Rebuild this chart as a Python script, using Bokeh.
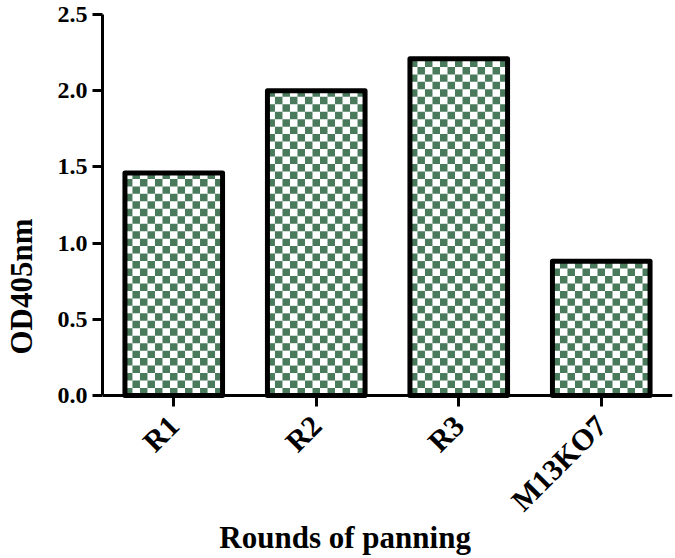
import numpy as np
from math import pi
from bokeh.plotting import figure
from bokeh.models import FactorRange, Range1d, FixedTicker, CustomJSTickFormatter, Label
from bokeh.embed import file_html
from bokeh.resources import INLINE

rounds = ["R1", "R2", "R3", "M13KO7"]
od405 = [1.46, 2.00, 2.21, 0.88]
y_ticks = [0.0, 0.5, 1.0, 1.5, 2.0, 2.5]

FONT = "Liberation Serif"
BAR_W = 0.685
N_COLS = 13          # checker columns across a bar
CELL_Y = 0.049       # checker cell height in data units
DARK = "#4a7a5c"
Y_BOTTOM = -1.07     # room below zero for the x tick labels and the x title

p = figure(
    x_range=FactorRange(*rounds, range_padding=0),
    y_range=Range1d(Y_BOTTOM, 2.5),
    width=675, height=558,
    output_backend="svg", toolbar_location=None,
    min_border_left=97, min_border_right=3, min_border_top=14, min_border_bottom=0,
)

# checkerboard fill of each bar, built from the bar values via the categorical (synthetic) coordinates
L, R, B, T = [], [], [], []
cell_x = BAR_W / N_COLS
for i, (name, v) in enumerate(zip(rounds, od405)):
    left0 = i + 0.5 - BAR_W / 2
    n_rows = int(np.ceil(v / CELL_Y))
    for r in range(n_rows):
        b = r * CELL_Y
        t = min(v, b + CELL_Y)
        for c in range(N_COLS):
            if (r + c) % 2 == 0:
                L.append(left0 + c * cell_x)
                R.append(left0 + (c + 1) * cell_x)
                B.append(b)
                T.append(t)
p.quad(left=L, right=R, bottom=B, top=T, fill_color=DARK, line_color=None)

p.vbar(x=rounds, top=od405, width=BAR_W, bottom=0,
       fill_color=None, line_color="black", line_width=5, line_join="round")

p.outline_line_color = None
p.xgrid.visible = False
p.ygrid.visible = False
p.background_fill_color = "white"
p.border_fill_color = "white"

# y axis
ya = p.yaxis[0]
ya.bounds = (0, 2.5)
ya.ticker = FixedTicker(ticks=y_ticks)
ya.formatter = CustomJSTickFormatter(code="return tick.toFixed(1);")
ya.axis_line_width = 3
ya.axis_line_color = "black"
ya.major_tick_line_width = 3
ya.major_tick_line_color = "black"
ya.major_tick_out = 10
ya.major_tick_in = 0
ya.minor_tick_line_color = None
ya.major_label_text_font = FONT
ya.major_label_text_font_style = "bold"
ya.major_label_text_font_size = "24px"
ya.major_label_text_color = "black"
ya.major_label_standoff = 5
ya.axis_label = "OD405nm"
ya.axis_label_text_font = FONT
ya.axis_label_text_font_style = "bold"
ya.axis_label_text_font_size = "31px"
ya.axis_label_text_color = "black"
ya.axis_label_standoff = 16

# x axis, drawn at y = 0
xa = p.xaxis[0]
xa.fixed_location = 0
xa.axis_line_width = 3
xa.axis_line_color = "black"
xa.major_tick_line_width = 3
xa.major_tick_line_color = "black"
xa.major_tick_out = 11
xa.major_tick_in = 0
xa.minor_tick_line_color = None
xa.major_label_orientation = pi / 4
xa.major_label_text_font = FONT
xa.major_label_text_font_style = "bold"
xa.major_label_text_font_size = "30px"
xa.major_label_text_color = "black"
xa.major_label_standoff = 14

# x title, placed in the frame below the rotated tick labels
p.add_layout(Label(x=0.82, y=-0.93,
                   text="Rounds of panning", text_font=FONT, text_font_style="bold",
                   text_font_size="31px", text_color="black",
                   text_align="left", text_baseline="middle"))

open("out.html", "w").write(file_html(p, INLINE))
